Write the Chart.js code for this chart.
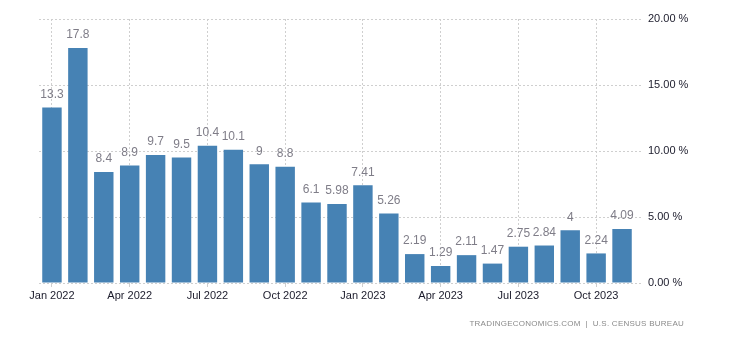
<!DOCTYPE html>
<html>
<head>
<meta charset="utf-8">
<script src="https://cdn.jsdelivr.net/npm/chart.js@4.4.1/dist/chart.umd.min.js"></script>
<style>
  html, body { margin: 0; padding: 0; background: #fff; }
  .wrap { position: relative; width: 730px; height: 340px; }
  .source {
    position: absolute; right: 46px; top: 319px;
    font: 8px "Liberation Sans", sans-serif; color: #8a8a8a; letter-spacing: 0.25px;
  }
</style>
</head>
<body>
<div class="wrap">
  <canvas id="growthChart" width="730" height="340"></canvas>
  <div class="source">TRADINGECONOMICS.COM&nbsp; |&nbsp; U.S. CENSUS BUREAU</div>
</div>
<script>
const months = [
  "Jan 2022", "Feb 2022", "Mar 2022", "Apr 2022", "May 2022", "Jun 2022",
  "Jul 2022", "Aug 2022", "Sep 2022", "Oct 2022", "Nov 2022", "Dec 2022",
  "Jan 2023", "Feb 2023", "Mar 2023", "Apr 2023", "May 2023", "Jun 2023",
  "Jul 2023", "Aug 2023", "Sep 2023", "Oct 2023", "Nov 2023"
];
const growth = [
  13.3, 17.8, 8.4, 8.9, 9.7, 9.5, 10.4, 10.1, 9, 8.8, 6.1, 5.98,
  7.41, 5.26, 2.19, 1.29, 2.11, 1.47, 2.75, 2.84, 4, 2.24, 4.09
];
const yTicks = [0, 5, 10, 15, 20];

const gridColor = "#cfcfcf";
const barColor = "#4682b4";
const tickFont = { family: "Liberation Sans", size: 11 };

// quarter months get a label and a grid line
const isQuarter = (i) => i % 3 === 0;

// value above each bar
const barLabels = {
  id: "barLabels",
  afterDatasetsDraw(chart) {
    const ctx = chart.ctx;
    const meta = chart.getDatasetMeta(0);
    ctx.save();
    ctx.font = "12px 'Liberation Sans', sans-serif";
    ctx.fillStyle = "#7f7d88";
    ctx.textAlign = "center";
    ctx.textBaseline = "bottom";
    meta.data.forEach((bar, i) => {
      ctx.fillText(String(growth[i]), bar.x, bar.y - 7);
    });
    ctx.restore();
  },
};

new Chart(document.getElementById("growthChart"), {
  type: "bar",
  data: {
    labels: months,
    datasets: [{
      data: growth,
      backgroundColor: barColor,
      barPercentage: 0.75,
      categoryPercentage: 1,
    }],
  },
  options: {
    responsive: false,
    animation: false,
    layout: { padding: { left: 39, top: 19, right: 0, bottom: 0 } },
    plugins: { legend: { display: false }, tooltip: { enabled: false } },
    scales: {
      x: {
        offset: true,
        grid: {
          offset: false,
          color: (c) => (isQuarter(c.index) ? gridColor : "rgba(0,0,0,0)"),
          tickColor: (c) => (isQuarter(c.index) ? gridColor : "rgba(0,0,0,0)"),
          tickLength: 4,
          lineWidth: 1,
        },
        border: { display: false, dash: [2, 2] },
        ticks: {
          autoSkip: false,
          maxRotation: 0,
          padding: 2,
          color: "#1b1b2b",
          font: tickFont,
          callback: (v, i) => (isQuarter(i) ? months[i] : ""),
        },
        afterFit: (scale) => { scale.height = 57; },
      },
      y: {
        position: "right",
        min: 0,
        max: 20,
        afterBuildTicks: (scale) => {
          scale.ticks = yTicks.map((v) => ({ value: v }));
        },
        grid: {
          color: gridColor,
          tickColor: gridColor,
          tickLength: 8,
          tickBorderDash: [2, 2],
        },
        border: { display: false, dash: [2, 2] },
        ticks: {
          padding: 5,
          color: "#1b1b2b",
          font: tickFont,
          callback: (v) => v.toFixed(2) + " %",
        },
        afterFit: (scale) => { scale.width = 95; },
      },
    },
  },
  plugins: [barLabels],
});
</script>
</body>
</html>
